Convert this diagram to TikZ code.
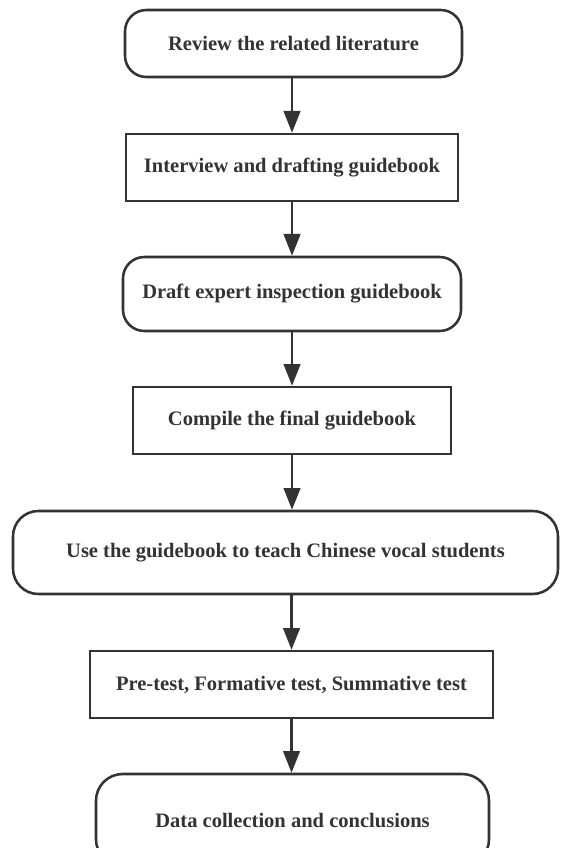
\documentclass[tikz,border=0pt]{standalone}
\usepackage{fontspec}
\setmainfont{Liberation Serif}
\usetikzlibrary{arrows.meta}
\definecolor{ink}{HTML}{333333}
\begin{document}
\begin{tikzpicture}[x=0.75pt,y=-0.75pt,
  box/.style={draw=ink,line width=1.9pt,fill=white,text=ink,
    font=\fontsize{15.4}{18}\selectfont\bfseries,inner sep=0pt,align=center},
  rbox/.style={box,rounded corners=16pt},
  sbox/.style={box},
  arr/.style={draw=ink,line width=1.7pt,-{Triangle[width=12.5pt,length=16.3pt]}}]
\useasboundingbox (0,0) rectangle (560,848);
\clip (0,0) rectangle (560,848);
\node[rbox,minimum width=252.75pt,minimum height=50.25pt] (n1) at (293.5,43.5) {Review the related literature};
\node[sbox,minimum width=249pt,minimum height=50.25pt] (n2) at (292,167.5) {Interview and drafting guidebook};
\node[rbox,minimum width=253.5pt,minimum height=55.5pt] (n3) at (292,294) {Draft expert inspection guidebook};
\node[sbox,minimum width=238.5pt,minimum height=50.25pt] (n4) at (292,420.5) {Compile the final guidebook};
\node[rbox,rounded corners=19pt,minimum width=408.75pt,minimum height=62.25pt] (n5) at (285.5,552.5) {Use the guidebook to teach Chinese vocal students};
\node[sbox,minimum width=302.25pt,minimum height=50.25pt] (n6) at (291.5,684.5) {Pre-test, Formative test, Summative test};
\node[rbox,rounded corners=20pt,minimum width=294.75pt,minimum height=69pt] (n7) at (292.5,820) {Data collection and conclusions};
\draw[arr] (n2.north |- n1.south) -- (n2.north);
\draw[arr] (n2.south) -- (n3.north);
\draw[arr] (n3.south) -- (n4.north);
\draw[arr] (n4.south) -- (n4.south |- n5.north);
\draw[arr] (n6.north |- n5.south) -- (n6.north);
\draw[arr] (n6.south) -- (n6.south |- n7.north);
\end{tikzpicture}
\end{document}
